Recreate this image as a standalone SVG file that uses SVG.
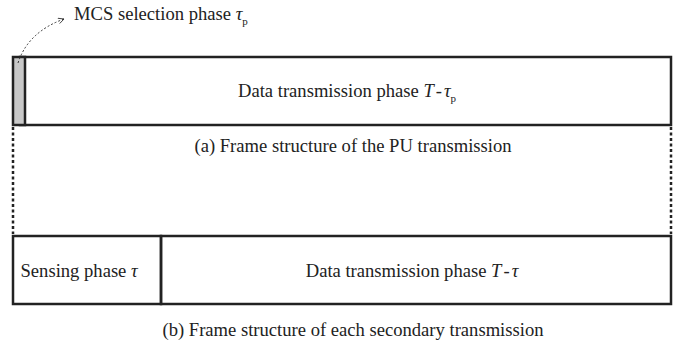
<svg xmlns="http://www.w3.org/2000/svg" width="689" height="345" viewBox="0 0 689 345">
  <style>
    text { font-family: "Liberation Serif", "Times New Roman", serif; font-size: 18.6px; fill: #222; }
    .it { font-style: italic; }
    .sub { font-size: 11px; }
    .frame { fill: none; stroke: #222; stroke-width: 2.5; }
    .dots { fill: none; stroke: #222; stroke-width: 2.5; stroke-dasharray: 3 2.5; }
    .pointer { fill: none; stroke: #333; stroke-width: 1; stroke-dasharray: 2 2; }
  </style>
  <defs>
    <marker id="open-head" viewBox="0 0 10 10" refX="9" refY="5" markerWidth="7" markerHeight="7" orient="auto" markerUnits="userSpaceOnUse">
      <path d="M1,1 L9,5 L1,9" fill="none" stroke="#333" stroke-width="1.2"/>
    </marker>
  </defs>

  <!-- PU frame -->
  <g id="pu-frame">
    <rect x="20" y="57" width="651" height="68" class="frame"/>
    <rect x="13" y="57" width="12" height="68" fill="#c8c8c8" stroke="#222" stroke-width="2.5"/>
    <text x="238" y="97">Data transmission phase <tspan class="it">T</tspan><tspan dx="2">-</tspan><tspan class="it" dx="2">τ</tspan><tspan class="sub" dy="5">p</tspan></text>
  </g>

  <g id="pu-caption">
    <text x="353" y="152" text-anchor="middle">(a) Frame structure of the PU transmission</text>
  </g>

  <!-- SU frame -->
  <g id="su-sensing">
    <rect x="13" y="236" width="148" height="68" class="frame"/>
    <text x="20.5" y="277">Sensing phase <tspan class="it">τ</tspan></text>
  </g>
  <g id="su-data">
    <rect x="161" y="236" width="510" height="68" class="frame"/>
    <text x="412" y="277" text-anchor="middle">Data transmission phase <tspan class="it">T</tspan><tspan dx="2">-</tspan><tspan class="it" dx="2">τ</tspan></text>
  </g>

  <g id="su-caption">
    <text x="353" y="336" text-anchor="middle">(b) Frame structure of each secondary transmission</text>
  </g>

  <g id="mcs-label">
    <text x="74" y="20">MCS selection phase <tspan class="it">τ</tspan><tspan class="sub" dy="5">p</tspan></text>
  </g>

  <!-- connectors -->
  <g id="connectors">
    <line x1="13" y1="127" x2="13" y2="234" class="dots"/>
    <line x1="671" y1="127" x2="671" y2="234" class="dots"/>
    <path d="M18,63 Q28,32 64,19" class="pointer" marker-end="url(#open-head)"/>
  </g>
</svg>
